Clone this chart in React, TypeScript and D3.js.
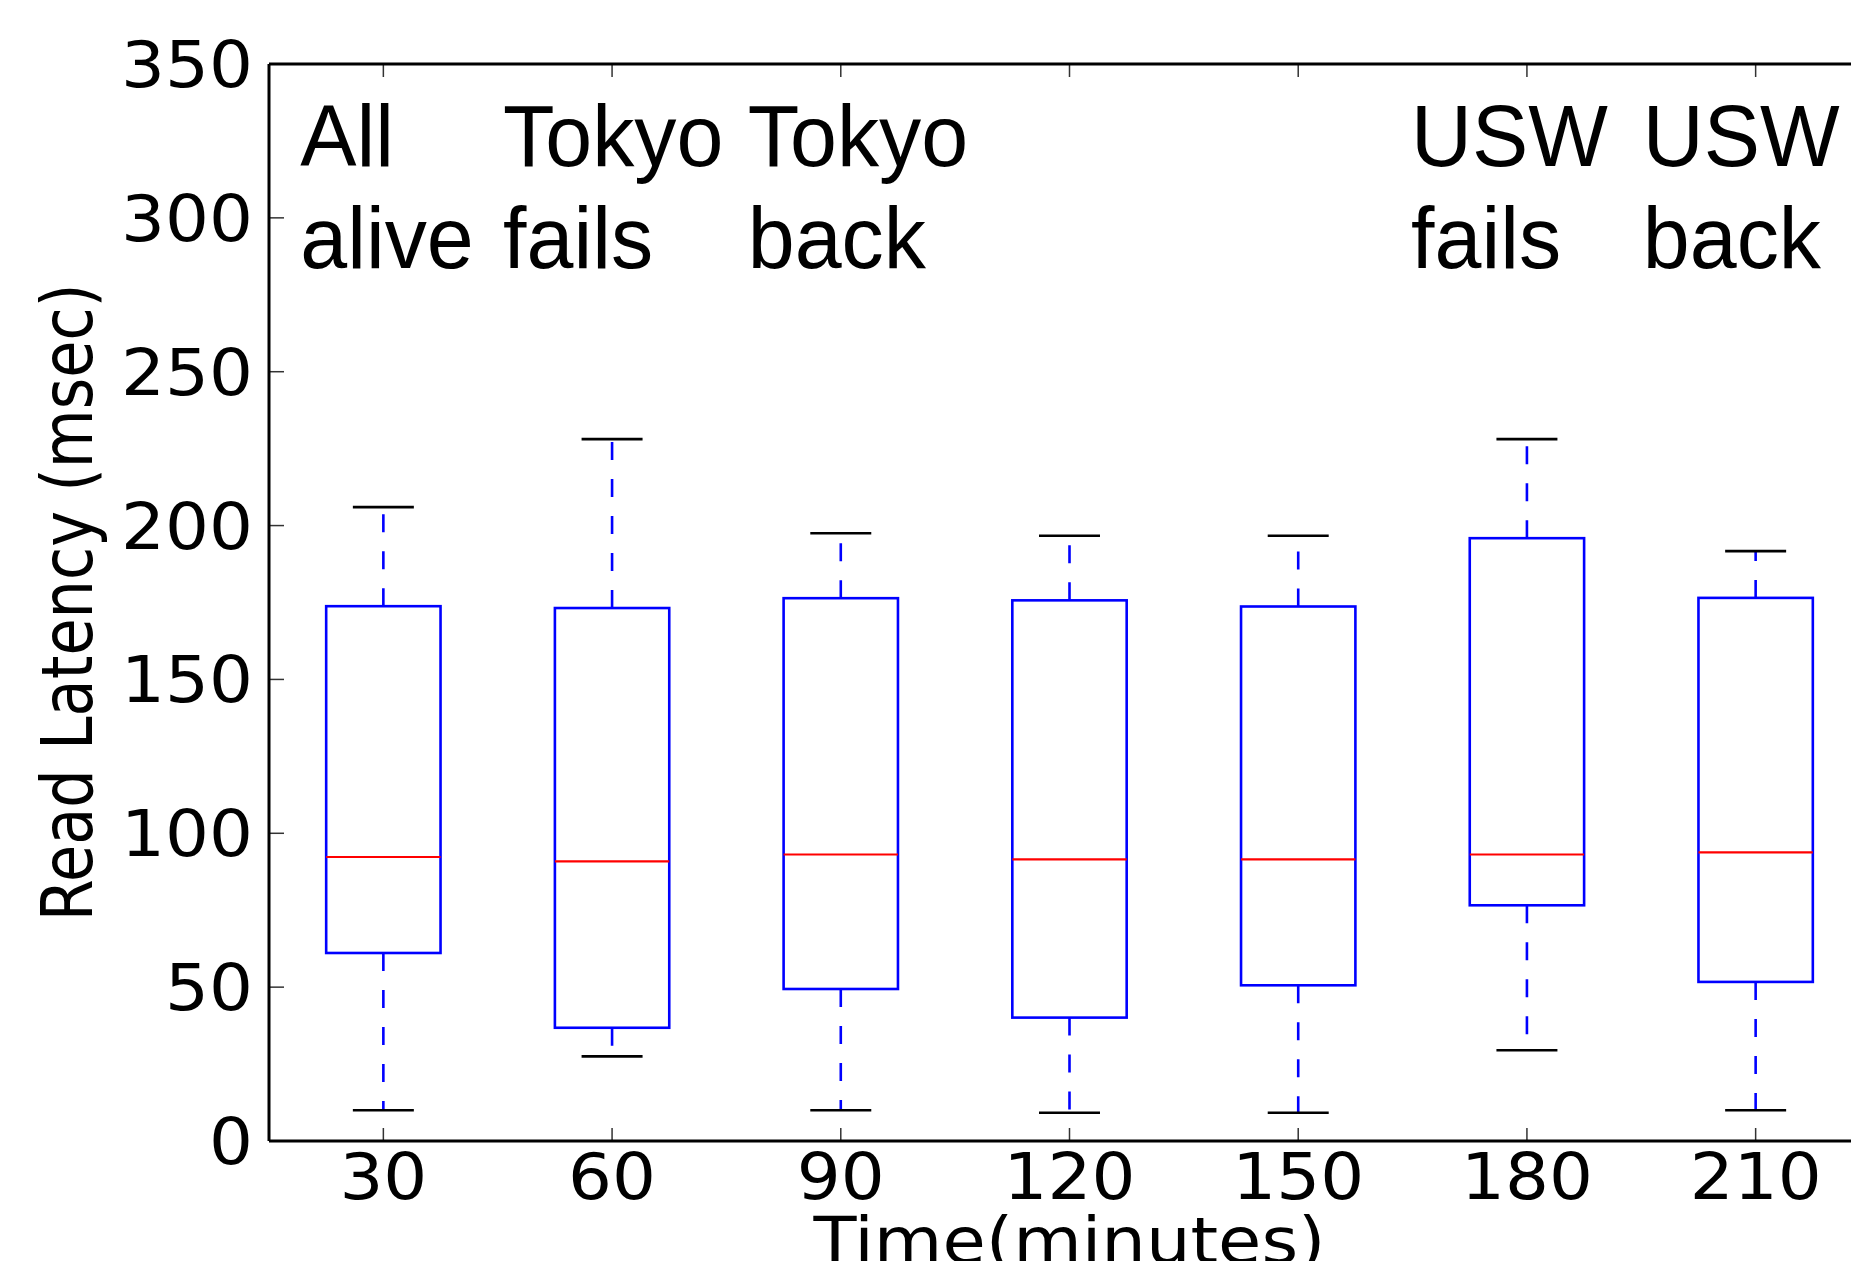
import React, { useEffect } from "react";
import * as d3 from "d3";

// ---- data ----
const times = [30, 60, 90, 120, 150, 180, 210];
const whiskerLow = [10, 27.5, 10, 9.2, 9.2, 29.5, 10];
const q1 = [61.1, 36.8, 49.4, 40.1, 50.6, 76.6, 51.7];
const medians = [92.3, 90.9, 93.1, 91.5, 91.5, 93.1, 93.8];
const q3 = [173.8, 173.2, 176.4, 175.7, 173.7, 195.9, 176.5];
const whiskerHigh = [206, 228.1, 197.5, 196.7, 196.7, 228.1, 191.7];

const yTicks = [0, 50, 100, 150, 200, 250, 300, 350];
const xTickLabels = ["30", "60", "90", "120", "150", "180", "210"];

const annotationFirstLines = ["All", "Tokyo", "Tokyo", "USW", "USW"];
const annotationSecondLines = ["alive", "fails", "back", "fails", "back"];
const annotationTimes = [19.1, 45.7, 77.8, 164.8, 195.2];
const annotationLineValues = [316.8, 283.6];

const xTitle = "Time(minutes)";
const yTitle = "Read Latency (msec)";

const W = 1851;
const H = 1261;

export default function App() {
  useEffect(() => {
    document.body.style.margin = "0";
    document.body.style.overflow = "hidden";
  }, []);

  const x = d3.scaleLinear().domain([15, 225]).range([269, 1870]);
  const y = d3.scaleLinear().domain([0, 350]).range([1141, 64]);
  const boxHalf = (x(30 + 7.5) - x(30));
  const capHalf = (x(30 + 4) - x(30));

  const [x0, x1] = x.range();
  const [yb, yt] = y.range();

  const dejavu = "'DejaVu Sans', Verdana, sans-serif";
  const arial = "'Liberation Sans', Arial, Helvetica, sans-serif";

  return (
    <svg width={W} height={H} style={{ position: "absolute", left: 0, top: 0, background: "#fff" }}>
      <rect x={0} y={0} width={W} height={H} fill="#fff" />

      {/* boxes */}
      {times.map((t, i) => {
        const cx = x(t);
        return (
          <g key={t}>
            <line x1={cx} x2={cx} y1={y(q3[i])} y2={y(whiskerHigh[i])}
              stroke="#0000ff" strokeWidth={2.6} strokeDasharray="18 19" />
            <line x1={cx} x2={cx} y1={y(q1[i])} y2={y(whiskerLow[i])}
              stroke="#0000ff" strokeWidth={2.6} strokeDasharray="18 19" />
            <line x1={cx - capHalf} x2={cx + capHalf} y1={y(whiskerHigh[i])} y2={y(whiskerHigh[i])}
              stroke="#000" strokeWidth={2.6} />
            <line x1={cx - capHalf} x2={cx + capHalf} y1={y(whiskerLow[i])} y2={y(whiskerLow[i])}
              stroke="#000" strokeWidth={2.6} />
            <rect x={cx - boxHalf} y={y(q3[i])} width={2 * boxHalf} height={y(q1[i]) - y(q3[i])}
              fill="none" stroke="#0000ff" strokeWidth={2.6} />
            <line x1={cx - boxHalf} x2={cx + boxHalf} y1={y(medians[i])} y2={y(medians[i])}
              stroke="#ff0000" strokeWidth={2.2} />
          </g>
        );
      })}

      {/* ticks */}
      {yTicks.map((v) => (
        <line key={"yt" + v} x1={x0} x2={x0 + 15} y1={y(v)} y2={y(v)} stroke="#333" strokeWidth={1.5} />
      ))}
      {times.map((t) => (
        <g key={"xt" + t}>
          <line x1={x(t)} x2={x(t)} y1={yb} y2={yb - 13} stroke="#333" strokeWidth={1.5} />
          <line x1={x(t)} x2={x(t)} y1={yt} y2={yt + 13} stroke="#333" strokeWidth={1.5} />
        </g>
      ))}

      {/* spines */}
      <line x1={x0} x2={x1} y1={yt} y2={yt} stroke="#000" strokeWidth={3} />
      <line x1={x0} x2={x1} y1={yb} y2={yb} stroke="#000" strokeWidth={3} />
      <line x1={x0} x2={x0} y1={yt} y2={yb} stroke="#000" strokeWidth={3} />
      <line x1={x1} x2={x1} y1={yt} y2={yb} stroke="#000" strokeWidth={3} />

      {/* y tick labels */}
      {yTicks.map((v) => (
        <g key={"yl" + v} transform={`translate(${x0 - 16},${y(v)}) scale(1.08,1)`}>
          <text x={0} y={0} dy="0.36em" textAnchor="end" fontFamily={dejavu} fontSize={64} fill="#000">
            {String(v)}
          </text>
        </g>
      ))}

      {/* x tick labels */}
      {times.map((t, i) => (
        <g key={"xl" + t} transform={`translate(${x(t)},${yb + 58}) scale(1.08,1)`}>
          <text x={0} y={0} textAnchor="middle" fontFamily={dejavu} fontSize={64} fill="#000">
            {xTickLabels[i]}
          </text>
        </g>
      ))}

      {/* axis titles */}
      <g transform={`translate(${(x0 + x1) / 2},${yb + 122}) scale(1.1,1)`}>
        <text x={0} y={0} textAnchor="middle" fontFamily={dejavu} fontSize={64} fill="#000">
          {xTitle}
        </text>
      </g>
      <g transform={`translate(92,${(yt + yb) / 2}) scale(1.17,1) rotate(-90)`}>
        <text x={0} y={0} textAnchor="middle" fontFamily={dejavu} fontSize={60.5} fill="#000">
          {yTitle}
        </text>
      </g>

      {/* annotations */}
      {annotationTimes.map((t, i) => (
        <g key={"an" + i}>
          <g transform={`translate(${x(t)},${y(annotationLineValues[0])}) scale(0.97,1)`}>
            <text x={0} y={0} fontFamily={arial} fontSize={87} fill="#000">
              {annotationFirstLines[i]}
            </text>
          </g>
          <g transform={`translate(${x(t)},${y(annotationLineValues[1])}) scale(0.97,1)`}>
            <text x={0} y={0} fontFamily={arial} fontSize={87} fill="#000">
              {annotationSecondLines[i]}
            </text>
          </g>
        </g>
      ))}
    </svg>
  );
}
